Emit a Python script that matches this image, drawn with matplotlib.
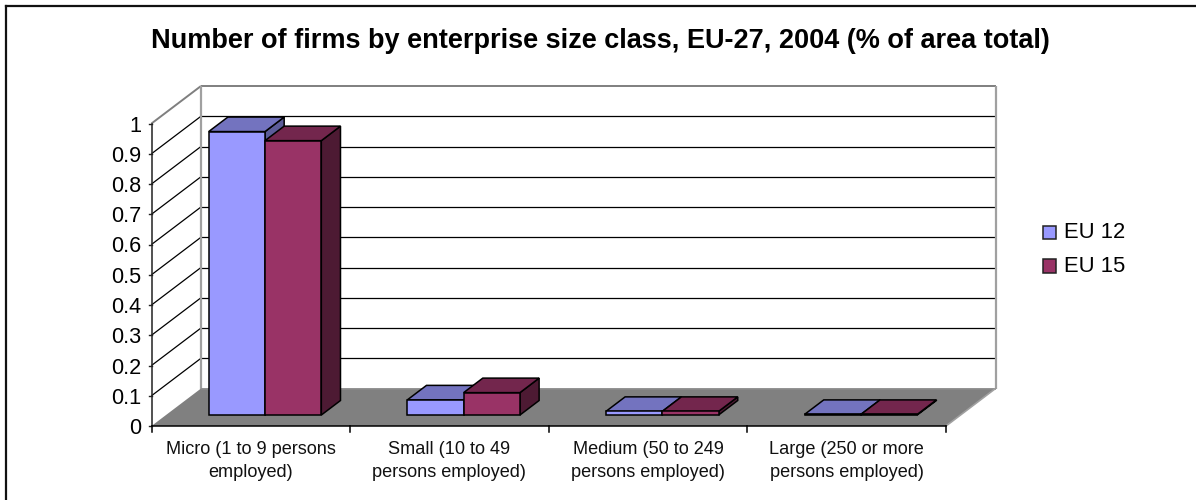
import matplotlib
matplotlib.use("Agg")
import matplotlib.pyplot as plt
from matplotlib.lines import Line2D
from matplotlib.patches import Polygon, Rectangle

plt.rcParams["font.family"] = ["Liberation Sans", "DejaVu Sans"]

categories = ["Micro (1 to 9 persons\nemployed)", "Small (10 to 49\npersons employed)",
              "Medium (50 to 249\npersons employed)", "Large (250 or more\npersons employed)"]
eu12 = [0.937, 0.05, 0.012, 0.002]
eu15 = [0.907, 0.074, 0.012, 0.002]
series_names = ["EU 12", "EU 15"]
y_ticks = [0, 0.1, 0.2, 0.3, 0.4, 0.5, 0.6, 0.7, 0.8, 0.9, 1]
title = "Number of firms by enterprise size class, EU-27, 2004 (% of area total)"

W, H = 1196, 500
fig = plt.figure(figsize=(W / 100, H / 100), dpi=100, facecolor="white")

# Page frame: only the top and left rules fall inside the page
frame_x, frame_y = 5.5 / W, 1 - 5.5 / H
for xs, ys in (([frame_x, 1], [frame_y, frame_y]), ([frame_x, frame_x], [frame_y, 0])):
    fig.add_artist(Line2D(xs, ys, transform=fig.transFigure, color="#111111", lw=1.6,
                          solid_capstyle="projecting"))

# Axes covers the front plane of the 3-D box
L, R, T, B = 151.5, 946, 123.5, 426
ax = fig.add_axes([L / W, 1 - B / H, (R - L) / W, (B - T) / H])
ax.set_xlim(0, 4)
ax.set_ylim(0, 1)
ax.axis("off")

# Oblique projection: depth 0 is the front plane, depth 1 the back wall
DX = 49.5 / (R - L) * 4
DY = 37.5 / (B - T)


def proj(x, y, z):
    return (x + z * DX, y + z * DY)


def face(points, **kw):
    ax.add_patch(Polygon([proj(*p) for p in points], closed=True, clip_on=False, **kw))


def seg(a, b, **kw):
    pa, pb = proj(*a), proj(*b)
    ax.plot([pa[0], pb[0]], [pa[1], pb[1]], clip_on=False, solid_capstyle="butt", **kw)


GRID = "#7f7f7f"

# Floor
face([(0, 0, 0), (4, 0, 0), (4, 0, 1), (0, 0, 1)], facecolor="#808080", edgecolor="none", zorder=1)

# Back wall and side wall gridlines
for v in y_ticks:
    if v == 0:
        continue
    edge = GRID if v == 1 else "black"
    lw = 1.4 if v == 1 else 0.9
    seg((0, v, 1), (4, v, 1), color=edge, lw=lw, zorder=2)
    seg((0, v, 0), (0, v, 1), color=edge, lw=lw, zorder=2)
seg((0, 0, 1), (0, 1, 1), color="#a0a0a0", lw=1.6, zorder=2.1)
seg((4, 0, 1), (4, 1, 1), color="#a0a0a0", lw=1.6, zorder=2.1)
seg((0, 0, 1), (4, 0, 1), color="#8c8c8c", lw=1.2, zorder=2.1)
seg((4, 0, 0), (4, 0, 1), color="#a0a0a0", lw=1.2, zorder=2.1)

# Bars: two side-by-side boxes per category, back to front, left to right
GAP = 0.215
BAR_W = 0.2835
Z0, Z1 = 0.293, 0.68
palette = [("#9999FF", "#7373BF", "#5C5C99"), ("#993366", "#73264D", "#4D1A33")]
order = 3
for i in range(len(categories)):
    for s, values in enumerate((eu12, eu15)):
        x0 = i + GAP + s * BAR_W
        x1 = x0 + BAR_W
        v = values[i]
        front, top, side = palette[s]
        kw = dict(edgecolor="black", linewidth=1.1, joinstyle="miter", zorder=order)
        face([(x1, 0, Z0), (x1, 0, Z1), (x1, v, Z1), (x1, v, Z0)], facecolor=side, **kw)
        face([(x0, v, Z0), (x1, v, Z0), (x1, v, Z1), (x0, v, Z1)], facecolor=top, **kw)
        face([(x0, 0, Z0), (x1, 0, Z0), (x1, v, Z0), (x0, v, Z0)], facecolor=front, **kw)
        order += 1

# Front axes with tick marks and labels
AXIS = "#222222"
ax.plot([0, 0], [0, 1], color=AXIS, lw=1.1, clip_on=False, zorder=40)
ax.plot([0, 4], [0, 0], color="black", lw=1.1, clip_on=False, zorder=40)
for v in y_ticks:
    ax.plot([0, -3 / (R - L) * 4], [v, v], color=AXIS, lw=1.0, clip_on=False, zorder=40)
    ax.annotate(f"{v:g}", (0, v), xytext=(-7.6, 0.0), textcoords="offset points",
                ha="right", va="center_baseline", fontsize=15.6, color="black")
for i in range(len(categories) + 1):
    ax.plot([i, i], [0, -6 / (B - T)], color="black", lw=1.1, clip_on=False, zorder=40)
for i, label in enumerate(categories):
    ax.annotate(label, (i + 0.5, 0), xytext=(0, -11), textcoords="offset points",
                ha="center", va="top", fontsize=13.1, linespacing=1.42, color="#111111")

fig.text(600.5 / W, 1 - 41 / H, title, ha="center", va="center", fontsize=19.55,
         fontweight="bold", color="black")

# Legend drawn with figure coordinates
for name, (fill, _, _), y in zip(series_names, palette, (232, 265.5)):
    fig.add_artist(Rectangle((1042.5 / W, 1 - (y + 7) / H), 13.5 / W, 13.5 / H,
                             transform=fig.transFigure, facecolor=fill,
                             edgecolor="#222222", linewidth=1.1))
    fig.text(1064 / W, 1 - (y + 1) / H, name, ha="left", va="center", fontsize=15.8, color="black")

fig.savefig("out.png", dpi=100)
